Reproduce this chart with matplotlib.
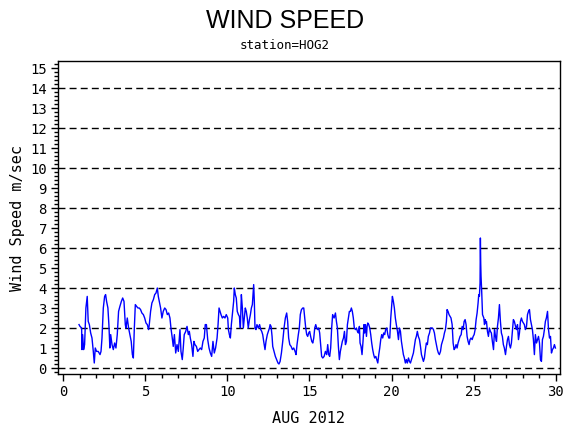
import matplotlib
matplotlib.use("Agg")
import matplotlib.pyplot as plt
from matplotlib.ticker import MultipleLocator

# hourly-ish wind speed readings, AUG 2012 (day of month, m/sec)
day = [0.96, 1.02, 1.12, 1.14, 1.18, 1.24, 1.30, 1.38, 1.46, 1.52, 1.59, 1.67, 1.75, 1.83, 1.89, 1.95,
       2.03, 2.13, 2.24, 2.30, 2.36, 2.44, 2.52, 2.58, 2.64, 2.72, 2.78, 2.84, 2.89, 2.97,
       3.05, 3.13, 3.21, 3.29, 3.37, 3.45, 3.54, 3.62, 3.70, 3.78, 3.82, 3.90, 3.98,
       4.06, 4.14, 4.21, 4.27, 4.33, 4.39, 4.47, 4.55, 4.63, 4.71, 4.79, 4.88, 4.96,
       5.04, 5.12, 5.20, 5.24, 5.32, 5.40, 5.49, 5.57, 5.65, 5.73, 5.79, 5.85, 5.93,
       6.01, 6.09, 6.18, 6.26, 6.34, 6.42, 6.50, 6.56, 6.64, 6.70, 6.77, 6.85, 6.93,
       7.01, 7.07, 7.11, 7.17, 7.25, 7.31, 7.37, 7.46, 7.54, 7.62, 7.68, 7.74, 7.82, 7.90, 7.96,
       8.02, 8.11, 8.19, 8.27, 8.35, 8.43, 8.51, 8.59, 8.65, 8.72, 8.80, 8.88, 8.96,
       9.04, 9.12, 9.20, 9.28, 9.37, 9.43, 9.49, 9.55, 9.61, 9.69, 9.77, 9.85, 9.93,
       10.02, 10.06, 10.12, 10.18, 10.24, 10.32, 10.38, 10.42, 10.48, 10.54, 10.60, 10.67, 10.73,
       10.79, 10.85, 10.91, 10.97, 11.03, 11.09, 11.15, 11.21, 11.27, 11.34, 11.40, 11.46, 11.52,
       11.56, 11.60, 11.64, 11.68, 11.74, 11.80, 11.88, 11.96, 12.03, 12.09, 12.15, 12.21,
       12.29, 12.35, 12.43, 12.49, 12.56, 12.60, 12.66, 12.72, 12.76, 12.84, 12.92,
       13.00, 13.08, 13.14, 13.21, 13.29, 13.37, 13.45, 13.53, 13.61, 13.67, 13.73, 13.80, 13.88, 13.96,
       14.04, 14.12, 14.18, 14.24, 14.32, 14.38, 14.44, 14.51, 14.59, 14.65, 14.71, 14.77, 14.83, 14.89, 14.95,
       15.01, 15.07, 15.14, 15.20, 15.26, 15.32, 15.38, 15.44, 15.50, 15.56, 15.62, 15.68, 15.74, 15.81, 15.89, 15.97,
       16.05, 16.11, 16.17, 16.23, 16.29, 16.35, 16.41, 16.50, 16.58, 16.64, 16.70, 16.76, 16.82, 16.88, 16.94,
       17.00, 17.07, 17.13, 17.19, 17.25, 17.31, 17.37, 17.43, 17.49, 17.55, 17.61, 17.67, 17.73, 17.80, 17.86, 17.92, 17.98,
       18.04, 18.08, 18.14, 18.20, 18.26, 18.32, 18.36, 18.41, 18.47, 18.51, 18.55, 18.61, 18.67, 18.73, 18.79, 18.85, 18.91, 18.97,
       19.04, 19.10, 19.16, 19.22, 19.28, 19.34, 19.40, 19.46, 19.52, 19.58, 19.64, 19.71, 19.77, 19.83, 19.89, 19.95,
       20.01, 20.05, 20.11, 20.17, 20.23, 20.29, 20.36, 20.42, 20.48, 20.54, 20.60, 20.66, 20.72, 20.78, 20.84, 20.90, 20.96,
       21.03, 21.09, 21.15, 21.21, 21.27, 21.33, 21.39, 21.45, 21.51, 21.57, 21.63, 21.70, 21.76, 21.82, 21.88, 21.94,
       22.00, 22.06, 22.12, 22.18, 22.24, 22.31, 22.37, 22.43, 22.49, 22.55, 22.61, 22.67, 22.73, 22.79, 22.85, 22.91, 22.98,
       23.04, 23.10, 23.16, 23.22, 23.28, 23.34, 23.38, 23.44, 23.50, 23.56, 23.62, 23.69, 23.75, 23.81, 23.87, 23.93, 23.99,
       24.05, 24.11, 24.17, 24.24, 24.30, 24.36, 24.42, 24.48, 24.54, 24.60, 24.66, 24.72, 24.78, 24.84, 24.91, 24.97,
       25.03, 25.09, 25.15, 25.21, 25.27, 25.31, 25.35, 25.39, 25.41, 25.43, 25.45, 25.49, 25.54, 25.58, 25.62, 25.66,
       25.70, 25.74, 25.78, 25.84, 25.90, 25.96,
       26.02, 26.08, 26.14, 26.21, 26.27, 26.33, 26.39, 26.45, 26.51, 26.57, 26.63, 26.69, 26.75, 26.81, 26.87, 26.94,
       27.00, 27.06, 27.12, 27.18, 27.24, 27.30, 27.36, 27.42, 27.48, 27.55, 27.61, 27.67, 27.73, 27.79, 27.85, 27.91, 27.97,
       28.03, 28.09, 28.15, 28.22, 28.28, 28.34, 28.40, 28.46, 28.52, 28.58, 28.64, 28.70, 28.76, 28.83, 28.89, 28.95,
       29.01, 29.07, 29.13, 29.19, 29.25, 29.31, 29.37, 29.43, 29.50, 29.56, 29.62, 29.68, 29.74, 29.80, 29.86, 29.92, 29.98]

speed = [2.17, 2.08, 2.00, 0.92, 1.67, 0.92, 1.17, 3.00, 3.58, 2.33, 2.17, 1.75, 1.50, 0.83, 0.25, 1.00,
         0.83, 0.83, 0.67, 0.83, 1.50, 3.00, 3.58, 3.67, 3.33, 3.00, 2.17, 1.00, 1.67, 1.17,
         0.92, 1.25, 1.00, 1.67, 2.83, 3.08, 3.33, 3.50, 3.33, 2.17, 2.00, 2.50, 2.00,
         1.67, 1.33, 0.67, 0.50, 2.00, 3.17, 3.08, 3.00, 3.00, 2.92, 2.75, 2.67, 2.50,
         2.25, 2.17, 1.92, 2.17, 2.83, 3.25, 3.42, 3.67, 3.75, 4.00, 3.58, 3.33, 3.00,
         2.50, 2.83, 3.00, 2.92, 2.67, 2.75, 2.50, 2.00, 1.50, 1.08, 1.67, 0.75, 1.17,
         0.83, 1.50, 1.92, 0.83, 0.42, 1.00, 1.67, 1.83, 2.08, 1.67, 1.83, 1.50, 1.17, 0.58, 1.33,
         1.17, 1.08, 0.83, 0.92, 1.00, 0.92, 1.33, 1.50, 2.17, 2.17, 1.42, 1.00, 0.75,
         0.58, 1.33, 0.75, 1.00, 1.50, 2.17, 3.00, 2.83, 2.67, 2.50, 2.58, 2.50, 2.67,
         2.50, 1.92, 1.67, 1.50, 2.17, 2.83, 3.33, 4.00, 3.67, 3.50, 2.83, 2.67, 2.58,
         2.00, 3.67, 3.00, 2.00, 2.50, 3.00, 2.83, 2.50, 2.00, 2.42, 2.67, 3.00, 3.17,
         3.67, 4.17, 3.33, 2.00, 1.92, 2.17, 2.00, 2.17, 1.92, 1.83, 1.67, 1.33,
         0.92, 1.33, 1.67, 1.83, 2.00, 2.17, 2.08, 1.58, 1.08, 0.83, 0.58,
         0.42, 0.25, 0.20, 0.33, 0.75, 1.33, 2.00, 2.50, 2.75, 2.33, 1.50, 1.17, 1.08, 0.92,
         1.00, 0.83, 0.67, 1.17, 1.67, 2.00, 2.67, 2.92, 3.00, 3.00, 2.50, 2.00, 1.67, 1.58, 1.75,
         1.83, 1.58, 1.33, 1.25, 1.50, 2.00, 2.17, 2.00, 1.92, 2.00, 1.75, 1.17, 0.58, 0.50, 0.58, 0.83,
         0.67, 1.17, 0.67, 0.58, 1.00, 2.00, 2.67, 2.50, 2.75, 2.33, 2.00, 1.08, 0.42, 0.83, 1.08,
         1.33, 1.50, 1.83, 1.17, 1.33, 2.17, 2.50, 2.83, 2.83, 3.00, 2.83, 2.50, 2.00, 1.92, 2.00, 1.83, 1.75,
         2.08, 1.25, 1.08, 0.67, 1.33, 2.17, 1.75, 2.17, 1.58, 2.08, 2.25, 2.17, 2.00, 1.67, 1.25, 0.92, 0.67, 0.50,
         0.58, 0.42, 0.25, 0.67, 1.00, 1.42, 1.67, 1.50, 1.75, 1.67, 1.92, 2.00, 1.67, 1.50, 1.50, 2.50,
         3.17, 3.58, 3.33, 3.00, 2.50, 2.17, 1.83, 1.42, 2.00, 1.83, 1.33, 1.00, 0.67, 0.50, 0.25, 0.42, 0.25,
         0.50, 0.33, 0.25, 0.42, 0.58, 0.75, 1.08, 1.42, 1.58, 1.83, 1.58, 1.42, 1.08, 0.67, 0.50, 0.33,
         0.50, 0.92, 1.25, 1.17, 1.58, 1.75, 2.00, 2.00, 2.00, 1.92, 1.75, 1.42, 1.17, 0.92, 0.75, 0.67, 0.83,
         1.17, 1.33, 1.50, 1.75, 1.92, 2.33, 2.92, 2.83, 2.67, 2.58, 2.50, 2.17, 1.25, 0.92, 1.00, 1.17, 1.00,
         1.25, 1.42, 1.58, 1.67, 2.08, 1.92, 2.33, 2.42, 2.17, 1.58, 1.33, 1.17, 1.42, 1.50, 1.42, 1.58,
         1.67, 1.92, 2.42, 2.75, 3.25, 3.67, 3.58, 4.25, 6.50, 5.25, 4.58, 3.83, 2.67, 2.58, 2.50, 2.17,
         2.42, 2.25, 2.33, 1.83, 1.58, 2.00,
         1.83, 1.75, 1.33, 0.92, 1.92, 1.58, 1.33, 2.08, 2.50, 3.17, 2.33, 1.75, 1.58, 1.17, 1.00, 0.67,
         1.08, 1.42, 1.58, 1.17, 1.00, 1.25, 1.83, 2.42, 2.33, 2.08, 1.92, 2.17, 1.42, 1.75, 2.33, 2.50, 2.33,
         2.25, 2.17, 1.92, 2.08, 2.67, 2.83, 2.92, 2.42, 2.17, 1.92, 1.42, 0.67, 1.67, 1.25, 1.42, 1.58,
         1.25, 0.42, 0.33, 1.42, 1.58, 1.92, 2.33, 2.50, 2.83, 1.92, 1.50, 1.58, 0.75, 0.92, 1.00, 1.17, 1.00]

ref_lines = [0, 2, 4, 6, 8, 10, 12, 14]

fig = plt.figure(figsize=(5.7, 4.3), dpi=100)
ax = fig.add_axes([58 / 570, 56 / 430, 502 / 570, 313 / 430])

for g in ref_lines:
    ax.axhline(g, color="black", lw=1, ls=(0, (5, 3)), zorder=1)

ax.plot(day, speed, color="blue", lw=1, zorder=2)

ax.set_xlim(-0.32, 30.26)
ax.set_ylim(-0.3, 15.35)
ax.xaxis.set_major_locator(MultipleLocator(5))
ax.xaxis.set_minor_locator(MultipleLocator(1))
ax.yaxis.set_major_locator(MultipleLocator(1))
ax.yaxis.set_minor_locator(MultipleLocator(0.2))
ax.tick_params(which="major", length=5, width=1, direction="out", labelsize=10, pad=3)
ax.tick_params(which="minor", length=3, width=1, direction="out")
for s in ax.spines.values():
    s.set_linewidth(1)
for lab in ax.get_xticklabels() + ax.get_yticklabels():
    lab.set_family("DejaVu Sans Mono")

fig.text(0.5, 0.951, "WIND SPEED", ha="center", va="center", fontsize=18, family="Liberation Sans")
fig.text(0.5, 0.895, "station=HOG2", ha="center", va="center", fontsize=9, family="DejaVu Sans Mono")
fig.text(18 / 570, 0.494, "Wind Speed m/sec", ha="center", va="center", rotation=90,
         fontsize=11, family="DejaVu Sans Mono")
fig.text(309 / 570, 0.026, "AUG 2012", ha="center", va="center", fontsize=11, family="DejaVu Sans Mono")

fig.savefig("out.png", dpi=100)
